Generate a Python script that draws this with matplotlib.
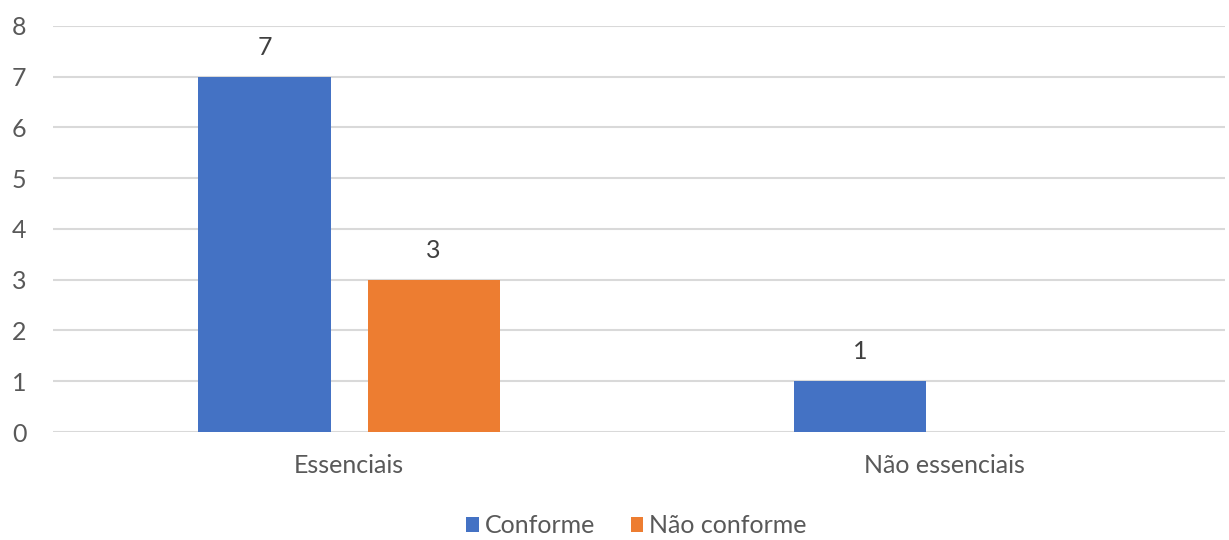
import numpy as np
import matplotlib
matplotlib.use('Agg')
import matplotlib.pyplot as plt

categories = ['Essenciais', 'Não essenciais']
conforme = [7, 1]
nao_conforme = [3, 0]
series_names = ['Conforme', 'Não conforme']

plt.rcParams['font.family'] = ['Lato', 'DejaVu Sans']
txt_color = '#595959'

fig = plt.figure(figsize=(12.29, 5.40), dpi=100)
ax = fig.add_axes([0.0431, 0.2, 0.9536, 0.7519])

x = np.arange(len(categories))
w = 0.222
off = 0.142
b1 = ax.bar(x - off, conforme, w, color='#4472C4', label=series_names[0], zorder=3)
b2 = ax.bar(x + off, nao_conforme, w, color='#ED7D31', label=series_names[1], zorder=3)

for bars, vals in ((b1, conforme), (b2, nao_conforme)):
    for rect, v in zip(bars, vals):
        if v == 0:
            continue
        ax.annotate(str(v), (rect.get_x() + rect.get_width() / 2, v),
                    xytext=(0, 13), textcoords='offset points',
                    ha='center', va='bottom', fontsize=18, color='#404040')

ax.set_ylim(0, 8)
ax.set_xlim(-0.497, 1.47)
ax.set_yticks(range(0, 9))
ax.set_xticks(x)
ax.set_xticklabels(categories)
ax.tick_params(axis='y', length=0, pad=19, labelsize=18, labelcolor=txt_color)
ax.tick_params(axis='x', length=0, pad=16, labelsize=18, labelcolor=txt_color)
for lab in ax.get_yticklabels():
    lab.set_horizontalalignment('right')
ax.grid(axis='y', color='#d9d9d9', linewidth=1.5, zorder=0)
for s in ax.spines.values():
    s.set_visible(False)

fig.legend(loc='center', bbox_to_anchor=(0.518, 0.026), ncol=2, frameon=False,
           fontsize=18, labelcolor=txt_color, handlelength=0.5, handleheight=0.5,
           handletextpad=0.25, columnspacing=1.4)

fig.savefig('out.png', dpi=100)
plt.close(fig)
